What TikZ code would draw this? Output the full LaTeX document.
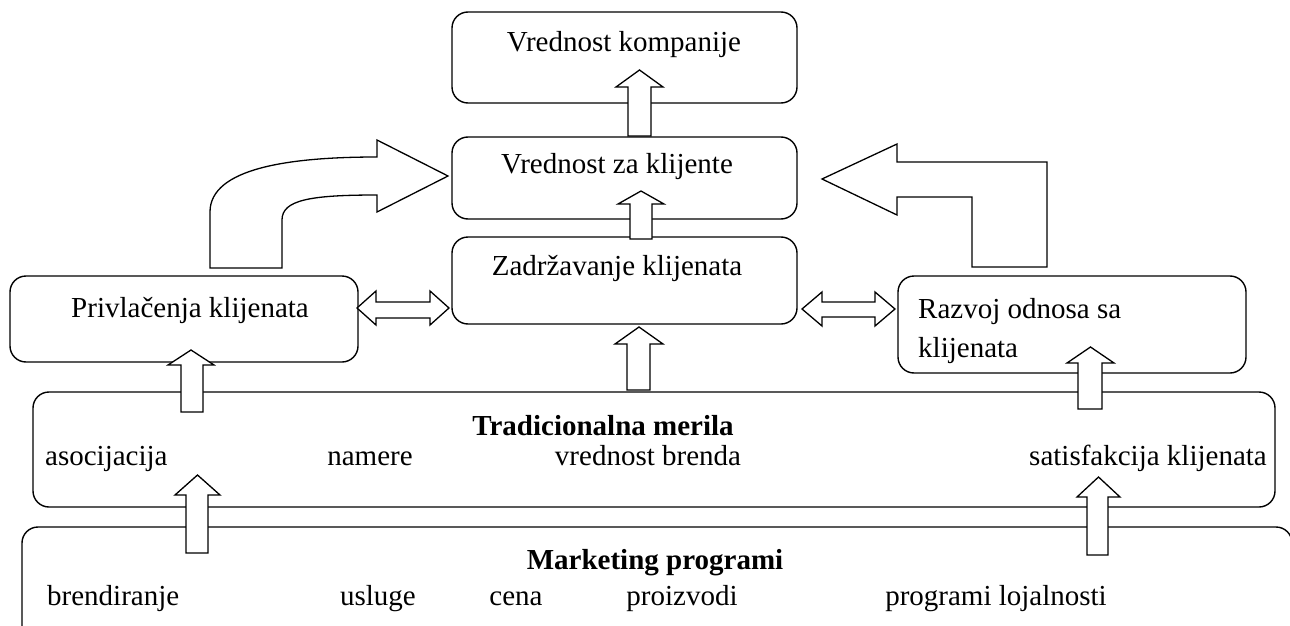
\documentclass[tikz,border=0pt]{standalone}
\usepackage{fontspec}
\setmainfont{Liberation Serif}
\begin{document}
\begin{tikzpicture}[x=1pt,y=-1pt,
  box/.style={draw,line width=1.4pt,rounded corners=16pt},
  blk/.style={draw,fill=white,line width=1.3pt,line join=miter},
  lbl/.style={inner sep=0pt,anchor=base,font=\fontsize{29}{33}\selectfont},
  blbl/.style={lbl,font=\fontsize{29}{33}\selectfont\bfseries}]
\useasboundingbox (0,0) rectangle (1290,626);
\newcommand\blkup[7]{% shaft l, shaft r, head l, head r, tip y, base y, bottom y
  \draw[blk] (#1,#7) -- (#1,#6) -- (#3,#6) -- ({(#3+#4)/2},#5) -- (#4,#6) -- (#2,#6) -- (#2,#7) -- cycle;}
\newcommand\blkdbl[8]{% left tip, left base, right base, right tip, shaft top, shaft bottom, head top, head bottom
  \draw[blk] (#1,{(#7+#8)/2}) -- (#2,#7) -- (#2,#5) -- (#3,#5) -- (#3,#7) -- (#4,{(#7+#8)/2}) -- (#3,#8) -- (#3,#6) -- (#2,#6) -- (#2,#8) -- cycle;}
% boxes
\draw[box] (452,12) rectangle (797,103) node[pos=0.5] (komp) {};
\draw[box] (452,137) rectangle (797,219) node[pos=0.5] (zakl) {};
\draw[box] (452,237) rectangle (797,324) node[pos=0.5] (zadr) {};
\draw[box] (10,276) rectangle (358,362) node[pos=0.5] (priv) {};
\draw[box] (898,276) rectangle (1246,373) node[pos=0.5] (razv) {};
\draw[box] (33,392) rectangle (1275,507) node[pos=0.5] (trad) {};
\draw[box] (22,527) rectangle (1292,680) node[pos=0.5] (mkt) {};
% labels
\node[lbl] (t1) at (624,52) {Vrednost kompanije};
\node[lbl] (t2) at (617,173) {Vrednost za klijente};
\node[lbl] (t3) at (617,275) {Zadržavanje klijenata};
\node[lbl] (t4) at (190,317) {Privlačenja klijenata};
\node[lbl,anchor=base west] (t5a) at (918,318) {Razvoj odnosa sa};
\node[lbl,anchor=base west] (t5b) at (918,357) {klijenata};
\node[blbl] (t6) at (603,435) {Tradicionalna merila};
\node[lbl,anchor=base west] (t7) at (45,465) {asocijacija};
\node[lbl] (t8) at (370,465) {namere};
\node[lbl] (t9) at (648,465) {vrednost brenda};
\node[lbl] (t10) at (1148,465) {satisfakcija klijenata};
\node[blbl] (t11) at (655,569) {Marketing programi};
\node[lbl,anchor=base west] (t12) at (47,605) {brendiranje};
\node[lbl] (t13) at (378,605) {usluge};
\node[lbl] (t14) at (516,605) {cena};
\node[lbl] (t15) at (682,605) {proizvodi};
\node[lbl] (t16) at (996,605) {programi lojalnosti};
% up arrows
\blkup{628}{651}{616}{663}{70}{87}{136}
\blkup{630}{652}{618}{664}{191}{204}{239}
\blkup{627}{650}{615}{663}{327}{344}{390}
\blkup{181}{203}{168}{214}{350}{365}{412}
\blkup{1078}{1102}{1067}{1114}{347}{363}{409}
\blkup{186}{208}{175}{220}{475}{495}{553}
\blkup{1087}{1108}{1077}{1120}{477}{497}{555}
% double arrows
\blkdbl{357}{376}{430}{449}{302}{318}{291}{325}
\blkdbl{802}{822}{875}{895}{302}{317}{292}{326}
% curved arrow left
\draw[blk] (210,268) -- (210,212) .. controls (210,168) and (290,157) .. (377,157)
  -- (377,140) -- (448,176) -- (377,212) -- (377,195)
  .. controls (310,195) and (282,200) .. (282,220) -- (282,268) -- cycle;
% L arrow right
\draw[blk] (822,179) -- (897,144) -- (897,162) -- (1047,162) -- (1047,267)
  -- (972,267) -- (972,197) -- (897,197) -- (897,215) -- cycle;
\end{tikzpicture}
\end{document}
